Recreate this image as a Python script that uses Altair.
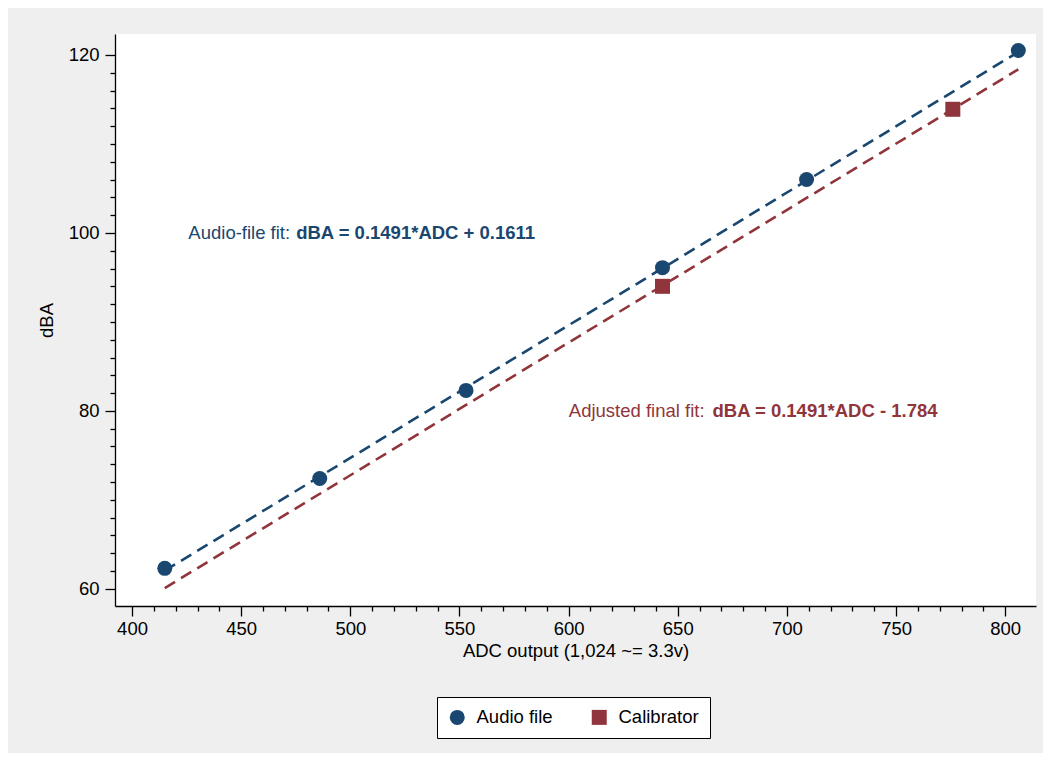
import altair as alt
import pandas as pd

# ---- data ----
audio_adc = [415, 486, 553, 643, 709, 806]
audio_dba = [62.3, 72.4, 82.3, 96.1, 106.0, 120.5]
cal_adc = [643, 776]
cal_dba = [94.0, 113.9]
fit_adc = [415, 806]
audio_fit_dba = [62.04, 120.34]
adj_fit_dba = [60.09, 118.39]

series_names = ["Audio file", "Calibrator"]
x_ticks = list(range(400, 801, 10))
y_ticks = list(range(60, 121, 2))

NAVY = "#1a476f"
MAROON = "#90353b"
FONT = "Liberation Sans"
FS = 18.5

points = pd.DataFrame(
    {
        "adc": audio_adc + cal_adc,
        "dba": audio_dba + cal_dba,
        "series": [series_names[0]] * len(audio_adc) + [series_names[1]] * len(cal_adc),
    }
)
fit_audio = pd.DataFrame({"adc": fit_adc, "dba": audio_fit_dba})
fit_adj = pd.DataFrame({"adc": fit_adc, "dba": adj_fit_dba})

notes_plain = pd.DataFrame(
    {"adc": [425.8, 600.1], "dba": [100.0, 80.0],
     "txt": ["Audio-file fit:", "Adjusted final fit:"], "col": [NAVY, MAROON]}
)
notes_bold = pd.DataFrame(
    {"adc": [475.2, 665.9], "dba": [100.0, 80.0],
     "txt": ["dBA = 0.1491*ADC + 0.1611", "dBA = 0.1491*ADC - 1.784"], "col": [NAVY, MAROON]}
)

x_scale = alt.Scale(domain=[392.2, 814.1], nice=False, zero=False)
y_scale = alt.Scale(domain=[58.07, 122.36], nice=False, zero=False)

axis_common = dict(
    grid=False,
    domainColor="black",
    domainWidth=1.3,
    tickColor="black",
    tickWidth=1.3,
    labelColor="black",
    titleColor="black",
    labelFontSize=FS,
    titleFontSize=FS,
    titleFontWeight="normal",
    labelFont=FONT,
    titleFont=FONT,
    labelFlush=False,
    labelOverlap=False,
)

x_axis = alt.Axis(
    values=x_ticks,
    labelExpr="datum.value % 50 === 0 ? datum.label : ''",
    tickSize={"condition": {"test": "datum.value % 50 === 0", "value": 10}, "value": 5},
    title="ADC output (1,024 ~= 3.3v)",
    labelPadding=3,
    titlePadding=4,
    **axis_common,
)
y_axis = alt.Axis(
    values=y_ticks,
    labelExpr="datum.value % 20 === 0 ? datum.label : ''",
    tickSize={"condition": {"test": "datum.value % 20 === 0", "value": 10}, "value": 5},
    title="dBA",
    labelPadding=6,
    titlePadding=12,
    **axis_common,
)

X = alt.X("adc:Q", scale=x_scale, axis=x_axis)
Y = alt.Y("dba:Q", scale=y_scale, axis=y_axis)

line_a = alt.Chart(fit_audio).mark_line(
    color=NAVY, strokeWidth=2.6, strokeDash=[12, 7]
).encode(x=X, y=Y)
line_b = alt.Chart(fit_adj).mark_line(
    color=MAROON, strokeWidth=2.6, strokeDash=[12, 7]
).encode(x=X, y=Y)

legend = alt.Legend(
    title=None,
    orient="none",
    legendX=322,
    legendY=663,
    direction="horizontal",
    fillColor="white",
    strokeColor="black",
    padding=11,
    labelFontSize=FS,
    labelFont=FONT,
    labelColor="black",
    labelOffset=10,
    columnPadding=37,
    symbolSize=225,
    symbolStrokeWidth=0,
    symbolOpacity=1,
)

pts = alt.Chart(points).mark_point(filled=True, opacity=1, size=225).encode(
    x=X,
    y=Y,
    color=alt.Color("series:N", scale=alt.Scale(domain=series_names, range=[NAVY, MAROON]), legend=legend),
    shape=alt.Shape("series:N", scale=alt.Scale(domain=series_names, range=["circle", "square"]), legend=legend),
)

txt_plain = alt.Chart(notes_plain).mark_text(
    align="left", baseline="middle", fontSize=FS, font=FONT
).encode(x=X, y=Y, text="txt:N", color=alt.Color("col:N", scale=None))
txt_bold = alt.Chart(notes_bold).mark_text(
    align="left", baseline="middle", fontSize=FS, font=FONT, fontWeight="bold"
).encode(x=X, y=Y, text="txt:N", color=alt.Color("col:N", scale=None))

chart = (
    alt.layer(line_a, line_b, txt_plain, txt_bold, pts)
    .properties(
        width=921,
        height=572,
        autosize=alt.AutoSizeParams(type="none"),
        padding={"left": 107, "top": 26, "right": 7, "bottom": 147},
        background="#efefef",
    )
    .configure_view(fill="white", stroke=None)
)

chart.save("out.html", embed_options={"renderer": "svg", "actions": False})
